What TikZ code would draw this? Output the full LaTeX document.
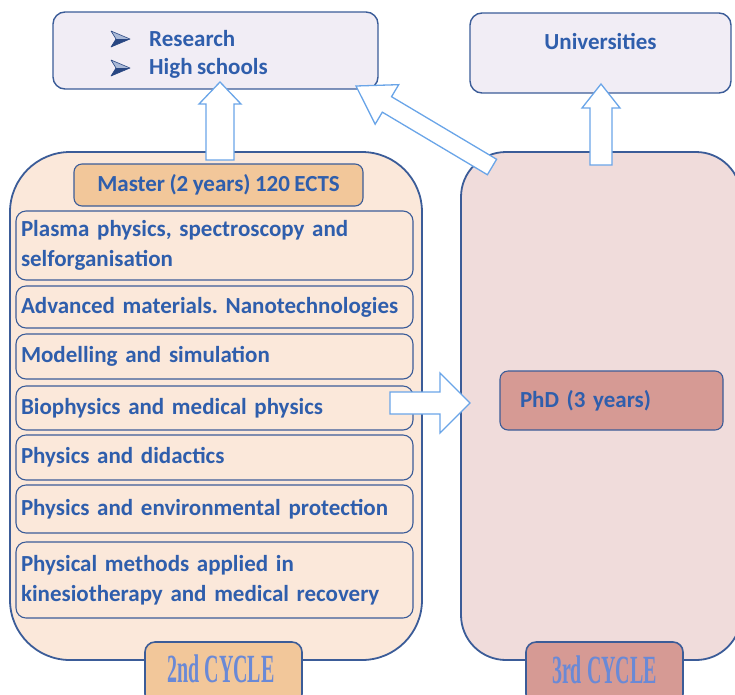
\documentclass[tikz,border=0pt]{standalone}
\usepackage{fontspec}
\setmainfont{Carlito}[WordSpace=0.85]
\newfontfamily\cyclefont{Liberation Serif}
\frenchspacing
\usetikzlibrary{calc}
\definecolor{navy}{RGB}{59,92,152}
\definecolor{bulletnavy}{RGB}{40,70,130}
\definecolor{bulletlight}{RGB}{170,185,215}
\definecolor{txtblue}{RGB}{47,94,172}
\definecolor{lav}{RGB}{241,237,245}
\definecolor{peach}{RGB}{251,232,218}
\definecolor{orange}{RGB}{242,199,154}
\definecolor{pinkbg}{RGB}{240,220,219}
\definecolor{rose}{RGB}{214,154,148}
\definecolor{arrblue}{RGB}{106,165,232}
\definecolor{cycleblue}{RGB}{106,137,214}
\newcommand{\blockarr}[5]{%
  \path ($(#2)!#5!(#1)$) coordinate (bah);
  \draw[barrow] ($(#1)!#3!90:(#2)$) -- ($(bah)!#3!90:(#2)$) -- ($(bah)!#4!90:(#2)$) -- (#2) -- ($(bah)!#4!-90:(#2)$) -- ($(bah)!#3!-90:(#2)$) -- ($(#1)!#3!-90:(#2)$) -- cycle;}
\newcommand{\bulletmark}[1]{%
  \fill[bulletlight] ($(#1)+(-10,-8)$) -- ($(#1)+(9,0)$) -- ($(#1)+(-5,0)$) -- cycle;
  \fill[bulletnavy] ($(#1)+(-10,8)$) -- ($(#1)+(9,0)$) -- ($(#1)+(-5,0)$) -- cycle;
  \draw[bulletnavy, line width=0.6pt, line join=round] ($(#1)+(-10,-8)$) -- ($(#1)+(9,0)$) -- ($(#1)+(-10,8)$) -- ($(#1)+(-5,0)$) -- cycle;}
\tikzset{
  txt/.style={text=txtblue, font=\fontsize{23}{30}\selectfont\bfseries},
  topbox/.style={draw=navy, line width=1.4pt, fill=lav, rounded corners=12pt},
  bigbox/.style={draw=navy, line width=1.8pt, rounded corners=60pt},
  itembox/.style={draw=navy, line width=1.1pt, fill=peach, rounded corners=10pt, txt,
    minimum width=397pt, text width=387pt, inner xsep=5pt, align=left},
  headbox/.style={draw=navy, line width=1.1pt, rounded corners=8pt, txt},
  cyclebox/.style={draw=navy, line width=1.6pt, rounded corners=10pt, minimum width=157pt, minimum height=62pt},
  cycletxt/.style={text=cycleblue, font=\cyclefont\bfseries\fontsize{40}{40}\selectfont},
  barrow/.style={draw=arrblue, line width=1.3pt, fill=white, line join=miter},
}
\begin{document}
\begin{tikzpicture}[x=1pt,y=-1pt]
\useasboundingbox (0,0) rectangle (735,694);
\clip (0,0) rectangle (735,694);
% top boxes
\node[topbox, minimum width=325pt, minimum height=77pt] (topL) at (215.5,50.5) {};
\node[txt, anchor=west, inner sep=0pt] (res) at (149,39) {Research};
\node[txt, anchor=west, inner sep=0pt] (hs) at (149,68) {High schools};
\coordinate (b1) at (121,39);
\coordinate (b2) at (121,68);
\bulletmark{b1}
\bulletmark{b2}
\node[topbox, minimum width=261pt, minimum height=80pt] (topR) at (600.5,53) {};
\node[txt] (univ) at (600.5,41) {Universities};
% big boxes
\node[bigbox, fill=peach, minimum width=412pt, minimum height=508pt] (cyc2) at (216,406) {};
\node[bigbox, fill=pinkbg, rounded corners=45pt, minimum width=280pt, minimum height=508pt] (cyc3) at (601,406) {};
% master
\node[headbox, fill=orange, minimum width=289pt, minimum height=42pt] (master) at (218.5,185) {Master (2 years) 120 ECTS};
\node[itembox, minimum height=69pt] (i1) at (214.5,245.5) {Plasma physics, spectroscopy and\\selforganisation};
\node[itembox, minimum height=42pt] (i2) at (214.5,307) {Advanced materials. Nanotechnologies};
\node[itembox, minimum height=45pt] (i3) at (214.5,356.5) {Modelling and simulation};
\node[itembox, minimum height=44pt] (i4) at (214.5,408) {Biophysics and medical physics};
\node[itembox, minimum height=45pt] (i5) at (214.5,457.5) {Physics and didactics};
\node[itembox, minimum height=48pt] (i6) at (214.5,509) {Physics and environmental protection};
\node[itembox, minimum height=76pt] (i7) at (214.5,580) {Physical methods applied in\\kinesiotherapy and medical recovery};
% PhD
\node[headbox, fill=rose, minimum width=223pt, minimum height=59pt, text width=183pt, inner xsep=20pt, align=left] (phd) at (611.5,400.5) {PhD (3 years)};
% cycle labels
\node[cyclebox, fill=orange] (lab2) at (223.5,673) {};
\node[cycletxt] at (221,669) {\scalebox{0.5}[1]{2nd CYCLE}};
\node[cyclebox, fill=rose] (lab3) at (604.5,673) {};
\node[cycletxt] at (604.5,670) {\scalebox{0.5}[1]{3rd CYCLE}};
% arrows
\coordinate (a1t) at (220,160);
\coordinate (a1h) at (220,82);
\coordinate (a2t) at (601,165);
\coordinate (a2h) at (601,84);
\coordinate (a3t) at (492,167);
\coordinate (a3h) at (356,86);
\coordinate (a4t) at (390,403);
\coordinate (a4h) at (470,403);
\blockarr{a1t}{a1h}{14pt}{21pt}{22pt}
\blockarr{a2t}{a2h}{11pt}{19pt}{24pt}
\blockarr{a3t}{a3h}{9pt}{23pt}{36pt}
\blockarr{a4t}{a4h}{11pt}{30pt}{30pt}
\end{tikzpicture}
\end{document}
